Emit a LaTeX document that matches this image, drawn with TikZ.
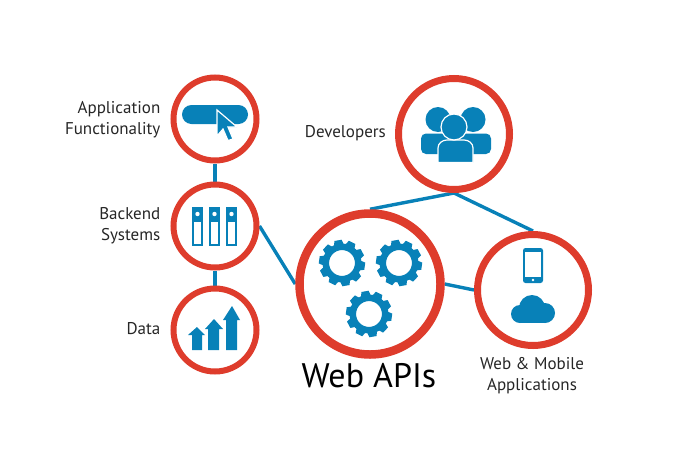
\documentclass[tikz,border=0pt]{standalone}
\usepackage{fontspec}
\setmainfont{PT Sans}
\usepackage{tikz}
\definecolor{ringred}{HTML}{DE3C2C}
\definecolor{iconblue}{HTML}{0881B8}
\tikzstyle{Ring}=[shape=circle, draw=ringred, fill=white, inner sep=0pt]
\tikzstyle{SmallRing}=[style=Ring, minimum size=83pt, line width=6pt]
\tikzstyle{MidRing}=[style=Ring, minimum size=111pt, line width=7pt]
\tikzstyle{BigRing}=[style=Ring, minimum size=141pt, line width=8.5pt]
\tikzstyle{Label}=[font=\fontsize{17}{21}\selectfont, text=black!85, inner sep=0pt]
\tikzstyle{link}=[draw=iconblue, line width=3.4pt]
\tikzstyle{icon}=[fill=iconblue]
\tikzstyle{outline}=[fill=iconblue, draw=white, line width=1.2pt]
\newcommand{\gearicon}[2]{
	\draw [iconblue, line width=6.5pt] (#1, #2) circle (16.2);
	\foreach \a in {0,36,...,324}
		\fill [icon, shift={(#1, #2)}, rotate=\a+10] (-5,-18) -- (-3.6,-23) -- (3.6,-23) -- (5,-18) -- cycle;
}
\pgfdeclarelayer{edgelayer}
\pgfdeclarelayer{nodelayer}
\pgfsetlayers{edgelayer, nodelayer, main}

\begin{document}
\begin{tikzpicture}[x=1pt, y=-1pt]
	\useasboundingbox (0, 0) rectangle (700, 450);
	\begin{pgfonlayer}{nodelayer}
		\node [style=SmallRing] (app) at (215, 119) {};
		\node [style=SmallRing] (backend) at (215, 226) {};
		\node [style=SmallRing] (data) at (215, 330) {};
		\node [style=MidRing] (developers) at (454, 134) {};
		\node [style=BigRing] (webapis) at (370, 284) {};
		\node [style=MidRing] (mobile) at (533, 290) {};
		% labels
		\node [style=Label, align=right, anchor=east] (applabel) at (160.5, 119.5) {Application\\Functionality};
		\node [style=Label, align=right, anchor=east] (backendlabel) at (160.5, 226) {Backend\\Systems};
		\node [style=Label, anchor=east] (datalabel) at (160.5, 328.5) {Data};
		\node [style=Label, anchor=east] (developerslabel) at (386, 133.5) {Developers};
		\node [style=Label, align=center] (mobilelabel) at (532, 376) {Web \& Mobile\\Applications};
		\node [font=\fontsize{34}{40}\selectfont, text=black, inner sep=0pt] (webapislabel) at (369, 376) {Web APIs};
	\end{pgfonlayer}
	\begin{pgfonlayer}{edgelayer}
		\draw [style=link] (app) to (backend);
		\draw [style=link] (backend) to (data);
		\draw [style=link] (backend.east) to (webapis.west);
		\draw [style=link] (webapis.east) to (mobile.west);
		\draw [style=link] (developers.south) to (webapis.north);
		\draw [style=link] (developers.south) to (mobile.north);
	\end{pgfonlayer}
	% pill and cursor
	\fill [icon, rounded corners=9.5pt] (182, 105) rectangle (248, 124);
	\path [style=outline, line join=miter] (217, 110) -- (237, 127) -- (228, 127) -- (233, 139) -- (228, 140.5) -- (223, 129) -- (217, 136) -- cycle;
	% racks
	\foreach \x in {192, 209, 226} {
		\fill [icon] (\x, 207) rectangle (\x+11, 246);
		\fill [white] (\x+2.2, 222) rectangle (\x+8.8, 244);
		\fill [white] (\x+5.5, 214) circle (2.2);
	}
	% rising arrows
	\fill [icon] (197, 327) -- (205, 335) -- (202, 335) -- (202, 350) -- (192, 350) -- (192, 335) -- (188, 335) -- cycle;
	\fill [icon] (214, 319) -- (223, 329) -- (219, 329) -- (219, 350) -- (208, 350) -- (208, 329) -- (205, 329) -- cycle;
	\fill [icon] (232, 306) -- (240, 320) -- (237, 320) -- (237, 350) -- (226, 350) -- (226, 320) -- (223, 320) -- cycle;
	% people
	\fill [icon] (438, 119.5) circle (12.5);
	\fill [icon] (473, 119.5) circle (12.5);
	\fill [icon, rounded corners=5pt] (421, 154) -- (421, 133.5) -- (491, 133.5) -- (491, 154) -- cycle;
	\path [style=outline] (438, 162.5) -- (438, 148) to [out=90, in=180] (447, 140) -- (464, 140) to [out=0, in=90] (473, 148) -- (473, 162.5) -- cycle;
	\path [style=outline] (454, 127) circle (13);
	% gears
	\gearicon{342}{263}
	\gearicon{399}{263}
	\gearicon{369}{314}
	% phone
	\fill [icon, rounded corners=2.5pt] (523, 248) rectangle (543, 283);
	\fill [white] (525, 252) rectangle (541, 277);
	\fill [white] (533, 280) circle (1.4);
	% cloud
	\fill [icon] (520, 314) circle (9);
	\fill [icon] (532, 308) circle (13);
	\fill [icon] (545, 313) circle (10);
	\fill [icon] (520, 312) rectangle (545, 323);
\end{tikzpicture}
\end{document}
